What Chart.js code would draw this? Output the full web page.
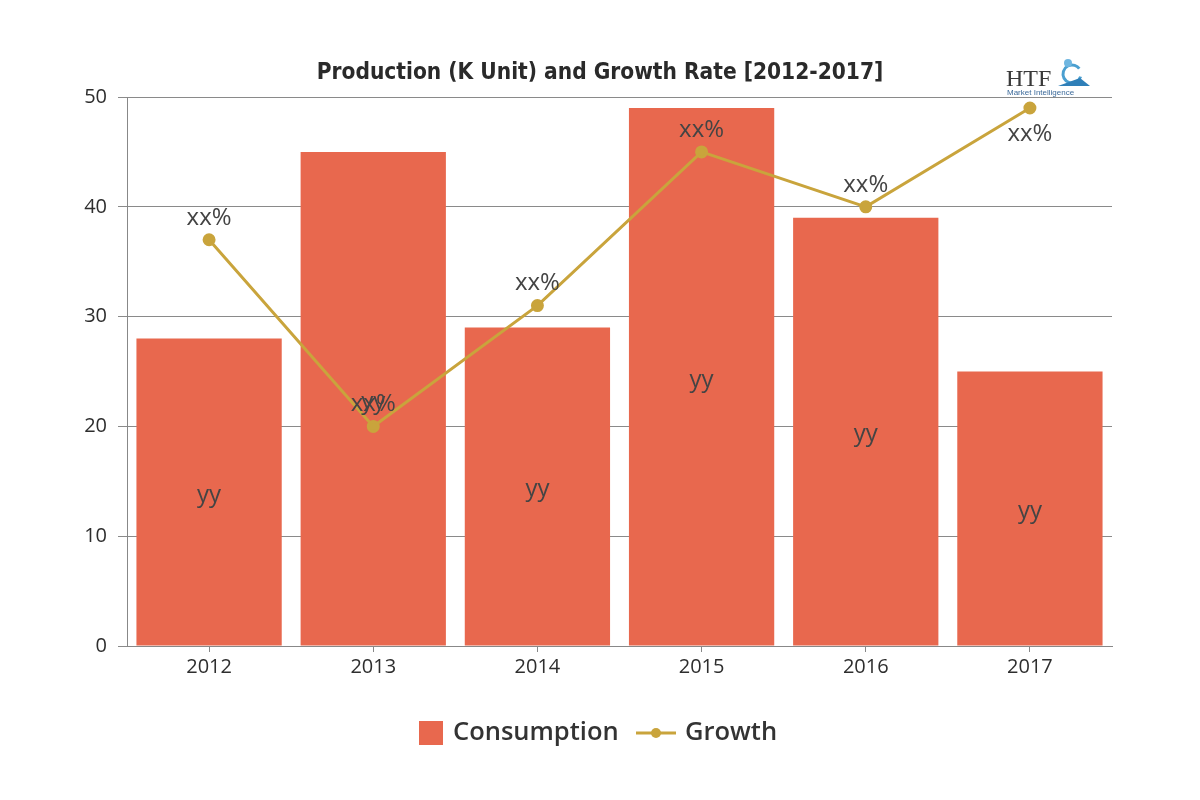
<!DOCTYPE html>
<html><head><meta charset="utf-8">
<script src="https://cdn.jsdelivr.net/npm/chart.js@4/dist/chart.umd.min.js"></script>
<style>html,body{margin:0;padding:0;background:#fff}#wrap{width:1200px;height:800px}</style>
</head><body><div id="wrap"><canvas id="c" width="1200" height="800"></canvas></div>
<script>
const categories = ['2012','2013','2014','2015','2016','2017'];
const consumption = [28, 45, 29, 49, 39, 25];
const growth = [37, 20, 31, 45, 40, 49];
const barLabels = ['yy','yy','yy','yy','yy','yy'];
const lineLabels = ['xx%','xx%','xx%','xx%','xx%','xx%'];
const titleText = 'Production (K Unit) and Growth Rate [2012-2017]';

const BAR = '#E8684E', LINE = '#C9A43C';

const deco = {
  id: 'deco',
  afterDatasetsDraw(chart) {
    const ctx = chart.ctx;
    ctx.save();
    const bm = chart.getDatasetMeta(1);
    ctx.font = '24px "Open Sans", sans-serif';
    ctx.fillStyle = '#444';
    ctx.textAlign = 'center'; ctx.textBaseline = 'middle';
    bm.data.forEach((el, i) => {
      const y = (el.y + el.base) / 2;
      ctx.fillText(barLabels[i], el.x, y + 3);
    });
    const lm = chart.getDatasetMeta(0);
    lm.data.forEach((el, i) => {
      let y = el.y - 22;
      if (y - 10 < chart.chartArea.top) y = el.y + 26;
      ctx.fillText(lineLabels[i], el.x, y);
    });
    ctx.restore();
  },
  afterDraw(chart) {
    const ctx = chart.ctx;
    ctx.save();
    ctx.font = 'bold 22.5px "DejaVu Sans Condensed", "DejaVu Sans", sans-serif';
    ctx.fillStyle = '#2a2a2a';
    ctx.textAlign = 'center'; ctx.textBaseline = 'middle';
    ctx.fillText(titleText, 600, 73);
    ctx.font = '24px "Liberation Serif", serif';
    ctx.fillStyle = '#3a3a3a';
    ctx.textAlign = 'left'; ctx.textBaseline = 'alphabetic';
    ctx.fillText('HTF', 1006, 86);
    ctx.strokeStyle = '#4a9fd0'; ctx.lineWidth = 3;
    ctx.beginPath(); ctx.arc(1072, 74, 9, 0.3, Math.PI * 1.8); ctx.stroke();
    ctx.fillStyle = '#6fb6e0';
    ctx.beginPath(); ctx.arc(1068, 63, 4, 0, Math.PI * 2); ctx.fill();
    ctx.fillStyle = '#2f7fb8';
    ctx.beginPath(); ctx.moveTo(1058, 86); ctx.lineTo(1090, 86); ctx.lineTo(1080, 78); ctx.closePath(); ctx.fill();
    ctx.font = '8px "Liberation Sans", sans-serif';
    ctx.fillStyle = '#3c6a9a';
    ctx.fillText('Market Intelligence', 1007, 95);
    const ly = 733;
    const barDs = chart.data.datasets[1], lineDs = chart.data.datasets[0];
    ctx.fillStyle = BAR;
    ctx.fillRect(419, 721, 24, 24);
    ctx.font = '600 25.5px "Open Sans", sans-serif';
    ctx.fillStyle = '#333';
    ctx.textBaseline = 'middle';
    ctx.fillText(barDs.label, 453, ly);
    ctx.strokeStyle = LINE; ctx.lineWidth = 3;
    ctx.beginPath(); ctx.moveTo(636, ly); ctx.lineTo(676, ly); ctx.stroke();
    ctx.fillStyle = LINE;
    ctx.beginPath(); ctx.arc(656, ly, 5, 0, Math.PI * 2); ctx.fill();
    ctx.fillStyle = '#333';
    ctx.fillText(lineDs.label, 685, ly);
    ctx.restore();
  }
};

new Chart(document.getElementById('c'), {
  data: {
    labels: categories,
    datasets: [
      { type: 'line', label: 'Growth', data: growth, borderColor: LINE, backgroundColor: LINE,
        borderWidth: 3, pointRadius: 5, pointHoverRadius: 5, tension: 0, order: 0 },
      { type: 'bar', label: 'Consumption', data: consumption, backgroundColor: BAR, borderWidth: 0,
        categoryPercentage: 1, barPercentage: 0.885, order: 1 }
    ]
  },
  options: {
    responsive: false, animation: false,
    layout: { padding: { left: 0, top: 97, right: 88, bottom: 104 } },
    plugins: { legend: { display: false }, title: { display: false }, tooltip: { enabled: false } },
    scales: {
      x: {
        grid: { display: true, offset: false, drawOnChartArea: false, drawTicks: true, tickLength: 6, color: '#888' },
        border: { display: true, color: '#888', width: 1 },
        ticks: { font: { family: '"Open Sans", sans-serif', size: 20 }, color: '#2e2e2e', padding: 3 },
        afterFit(s) { s.height = 50; }
      },
      y: {
        min: 0, max: 50,
        ticks: { stepSize: 10, font: { family: '"Open Sans", sans-serif', size: 20 }, color: '#2e2e2e', padding: 11 },
        grid: { color: '#8a8a8a', tickLength: 9, lineWidth: 1 },
        border: { display: true, color: '#888', width: 1 },
        afterFit(s) { s.width = 127; }
      }
    }
  },
  plugins: [deco]
});
</script>
</body></html>
